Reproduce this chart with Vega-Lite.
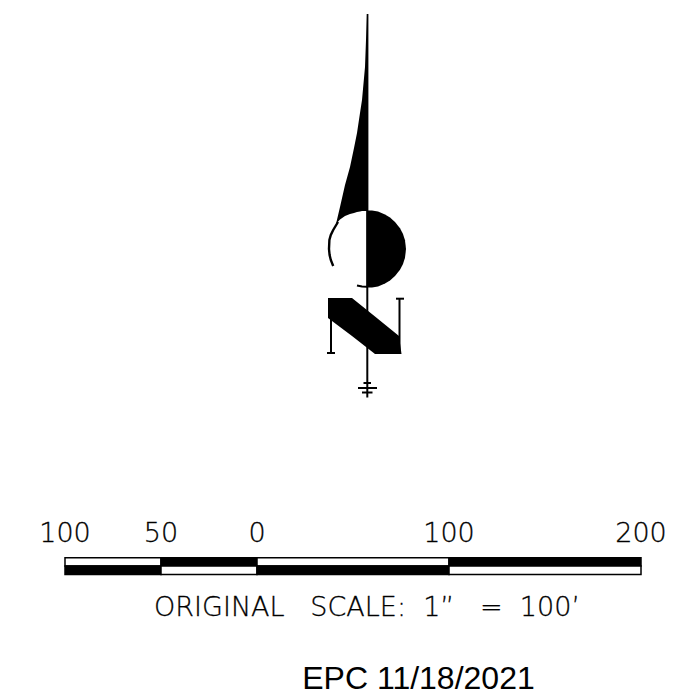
{
"$schema":"https://vega.github.io/schema/vega-lite/v6.json",
"width":694,"height":690,"padding":0,
"autosize":"none",
"background":"white",
"view":{"stroke":null},
"resolve":{"scale":{"x":"independent"}},
"layer":[
{"data":{"values":[
{"part":"blade","x":336,"y":224,"y2":224},
{"part":"blade","x":340,"y":207,"y2":219.5},
{"part":"blade","x":345,"y":185,"y2":216},
{"part":"blade","x":350,"y":167,"y2":214},
{"part":"blade","x":354,"y":148,"y2":213},
{"part":"blade","x":357,"y":133,"y2":212},
{"part":"blade","x":360,"y":113,"y2":211.5},
{"part":"blade","x":362,"y":100,"y2":211},
{"part":"blade","x":364,"y":78,"y2":211},
{"part":"blade","x":365,"y":67,"y2":211},
{"part":"blade","x":366,"y":40,"y2":211},
{"part":"blade","x":366.7,"y":14,"y2":211},
{"part":"blade","x":368.4,"y":14,"y2":211},
{"part":"disc","x":366.5,"y":210.5,"y2":287.5},
{"part":"disc","x":372,"y":210.5,"y2":287.5},
{"part":"disc","x":378,"y":211.5,"y2":286.5},
{"part":"disc","x":385,"y":214.4,"y2":283.6},
{"part":"disc","x":390,"y":217.5,"y2":280.5},
{"part":"disc","x":395,"y":221.9,"y2":276.1},
{"part":"disc","x":400,"y":228.2,"y2":269.8},
{"part":"disc","x":403,"y":234,"y2":264},
{"part":"disc","x":405,"y":240.2,"y2":257.8},
{"part":"disc","x":406,"y":249,"y2":249},
{"part":"diagonal","x":328,"y":298,"y2":318},
{"part":"diagonal","x":352,"y":298,"y2":336},
{"part":"diagonal","x":375,"y":316.6,"y2":354},
{"part":"diagonal","x":399,"y":336,"y2":354},
{"part":"diagonal","x":401.5,"y":354,"y2":354}
]},
"mark":{"type":"area","orient":"vertical","color":"black","interpolate":"linear"},
"encoding":{
"x":{"field":"x","type":"quantitative","axis":null,"scale":{"domain":[0,694],"nice":false,"zero":false}},
"y":{"field":"y","type":"quantitative","axis":null,"scale":{"domain":[690,0],"nice":false,"zero":false}},
"y2":{"field":"y2"},
"detail":{"field":"part"}}},
{"data":{"values":[
{"part":"crescent","i":0,"x":338,"y":222},
{"part":"crescent","i":1,"x":333.2,"y":230},
{"part":"crescent","i":2,"x":330.8,"y":235},
{"part":"crescent","i":3,"x":329.4,"y":240},
{"part":"crescent","i":4,"x":329,"y":249},
{"part":"crescent","i":5,"x":329.6,"y":255},
{"part":"crescent","i":6,"x":330.8,"y":260},
{"part":"crescent","i":7,"x":333.2,"y":266}
]},
"mark":{"type":"line","color":"black","strokeWidth":2.4,"strokeCap":"butt"},
"encoding":{
"x":{"field":"x","type":"quantitative","axis":null,"scale":{"domain":[0,694],"nice":false,"zero":false}},
"y":{"field":"y","type":"quantitative","axis":null,"scale":{"domain":[690,0],"nice":false,"zero":false}},
"detail":{"field":"part"},"order":{"field":"i"}}},
{"data":{"values":[
{"part":"shaft","i":0,"x":367.3,"y":211},
{"part":"shaft","i":1,"x":367.3,"y":397.5},
{"part":"arc-foot","i":0,"x":357,"y":285.5},
{"part":"arc-foot","i":1,"x":362,"y":286.6},
{"part":"arc-foot","i":2,"x":367,"y":286.8},
{"part":"stem-left","i":0,"x":331,"y":298},
{"part":"stem-left","i":1,"x":331,"y":353},
{"part":"serif-left","i":0,"x":327,"y":353},
{"part":"serif-left","i":1,"x":335,"y":353},
{"part":"stem-right","i":0,"x":399.5,"y":299},
{"part":"stem-right","i":1,"x":399.5,"y":354},
{"part":"serif-right","i":0,"x":396,"y":298.7},
{"part":"serif-right","i":1,"x":404,"y":298.7},
{"part":"tick-a","i":0,"x":363.5,"y":383},
{"part":"tick-a","i":1,"x":371,"y":383},
{"part":"tick-b","i":0,"x":358,"y":388},
{"part":"tick-b","i":1,"x":377,"y":388},
{"part":"tick-c","i":0,"x":362,"y":392.5},
{"part":"tick-c","i":1,"x":372.5,"y":392.5}
]},
"mark":{"type":"line","color":"black","strokeWidth":2,"strokeCap":"butt"},
"encoding":{
"x":{"field":"x","type":"quantitative","axis":null,"scale":{"domain":[0,694],"nice":false,"zero":false}},
"y":{"field":"y","type":"quantitative","axis":null,"scale":{"domain":[690,0],"nice":false,"zero":false}},
"detail":{"field":"part"},"order":{"field":"i"}}},
{"data":{"values":[
{"feet":-100,"feet2":-50,"row":557.7,"row2":566,"shade":"white"},
{"feet":-50,"feet2":0,"row":557.7,"row2":566,"shade":"black"},
{"feet":0,"feet2":100,"row":557.7,"row2":566,"shade":"white"},
{"feet":100,"feet2":200,"row":557.7,"row2":566,"shade":"black"},
{"feet":-100,"feet2":-50,"row":566,"row2":574.5,"shade":"black"},
{"feet":-50,"feet2":0,"row":566,"row2":574.5,"shade":"white"},
{"feet":0,"feet2":100,"row":566,"row2":574.5,"shade":"black"},
{"feet":100,"feet2":200,"row":566,"row2":574.5,"shade":"white"}
]},
"mark":{"type":"rect","stroke":"black","strokeWidth":1.5},
"encoding":{
"x":{"field":"feet","type":"quantitative","axis":null,"scale":{"domain":[-133.85,227.6],"nice":false,"zero":false}},
"x2":{"field":"feet2"},
"y":{"field":"row","type":"quantitative","axis":null,"scale":{"domain":[690,0],"nice":false,"zero":false}},
"y2":{"field":"row2"},
"fill":{"field":"shade","type":"nominal","legend":null,"scale":{"domain":["white","black"],"range":["white","black"]}}}},
{"data":{"values":[
{"feet":-100,"row":542,"label":"100"},
{"feet":-50,"row":542,"label":"50"},
{"feet":0,"row":542,"label":"0"},
{"feet":100,"row":542,"label":"100"},
{"feet":200,"row":542,"label":"200"}
]},
"mark":{"type":"text","font":"DejaVu Sans","fontWeight":200,"fontSize":27,"baseline":"alphabetic","align":"center","color":"black","stroke":"black","strokeWidth":0.3},
"encoding":{
"x":{"field":"feet","type":"quantitative","axis":null,"scale":{"domain":[-133.85,227.6],"nice":false,"zero":false}},
"y":{"field":"row","type":"quantitative","axis":null,"scale":{"domain":[690,0],"nice":false,"zero":false}},
"text":{"field":"label"}}},
{"data":{"values":[{"x":367,"y":616,"label":"ORIGINAL \u00a0\u00a0SCALE: \u00a01” \u00a0\u00a0= \u00a0100’"}]},
"mark":{"type":"text","font":"DejaVu Sans","fontWeight":200,"fontSize":27,"baseline":"alphabetic","align":"center","color":"black","stroke":"black","strokeWidth":0.3},
"encoding":{
"x":{"field":"x","type":"quantitative","axis":null,"scale":{"domain":[0,694],"nice":false,"zero":false}},
"y":{"field":"y","type":"quantitative","axis":null,"scale":{"domain":[690,0],"nice":false,"zero":false}},
"text":{"field":"label"}}},
{"data":{"values":[{"x":418.5,"y":689,"label":"EPC 11/18/2021"}]},
"mark":{"type":"text","font":"Liberation Sans","fontSize":32,"baseline":"alphabetic","align":"center","color":"black"},
"encoding":{
"x":{"field":"x","type":"quantitative","axis":null,"scale":{"domain":[0,694],"nice":false,"zero":false}},
"y":{"field":"y","type":"quantitative","axis":null,"scale":{"domain":[690,0],"nice":false,"zero":false}},
"text":{"field":"label"}}}
]
}
